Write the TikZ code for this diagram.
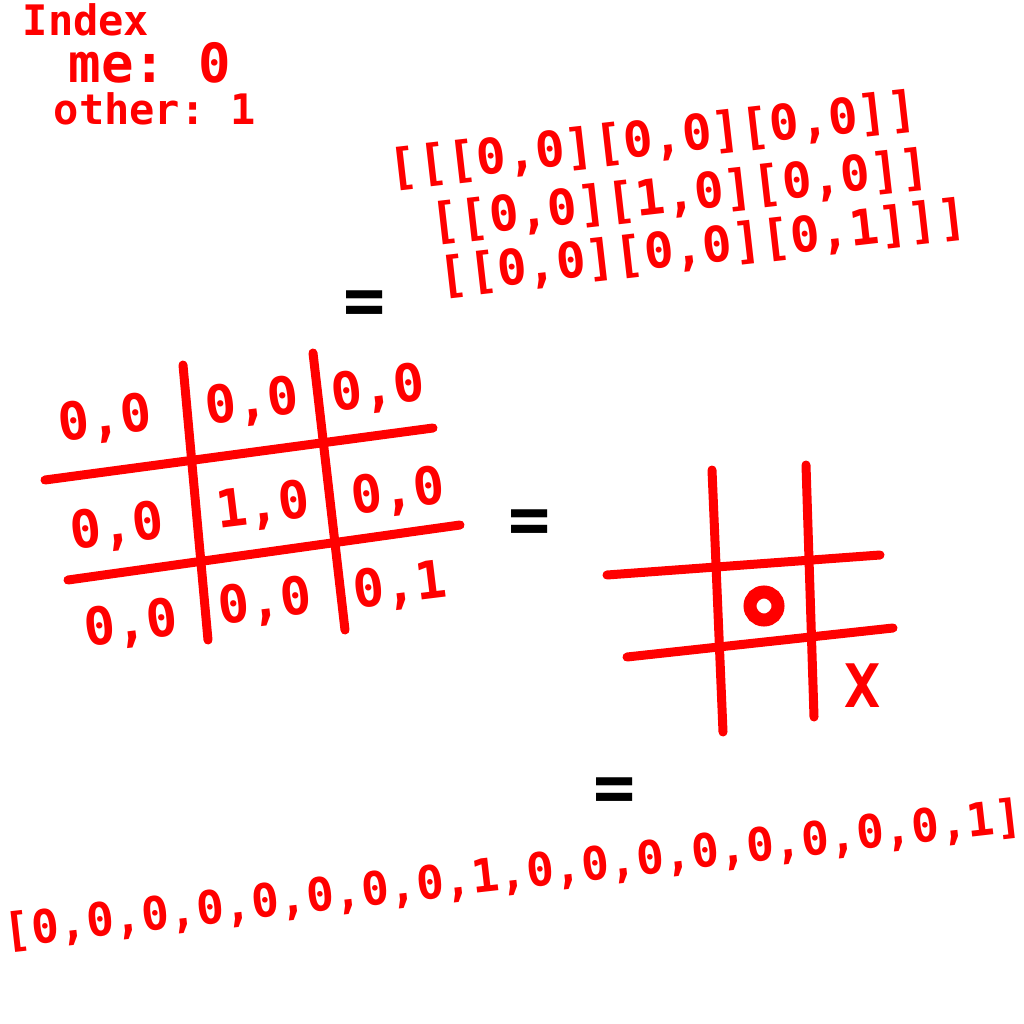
\documentclass[tikz,border=0pt]{standalone}
\usepackage{fontspec}
\setmonofont{DejaVu Sans Mono}
\definecolor{ink}{RGB}{255,0,0}
\begin{document}
\begin{tikzpicture}[x=1pt,y=-1pt,
  hand/.style={text=ink, font=\ttfamily\bfseries\fontsize{#1}{#1}\selectfont, inner sep=0pt},
  eqsign/.style={text=black, font=\ttfamily\bfseries\fontsize{70}{70}\selectfont, inner sep=0pt},
  gridline/.style={draw=ink, line width=9pt, line cap=round}]
\useasboundingbox[fill=white] (0,0) rectangle (1024,1024);
% index legend
\node[hand=42] (idx) at (86,20) {Index};
\node[hand=54] (me) at (150,63) {me: 0};
\node[hand=42] (oth) at (155,109) {other: 1};
% nested list
\node[hand=49, rotate=6.5] (l1) at (653,140) {[[[0,0][0,0][0,0]]};
\node[hand=49, rotate=6.5] (l2) at (680,196) {[[0,0][1,0][0,0]]};
\node[hand=49, rotate=6.5] (l3) at (703,248) {[[0,0][0,0][0,1]]]};
\node[eqsign] (eq1) at (365,308) {=};
% 3x3 value grid
\draw[gridline] (183,365) -- (208,640);
\draw[gridline] (313,353) -- (345,630);
\draw[gridline] (45,480) -- (433,428);
\draw[gridline] (68,580) -- (460,525);
\node[hand=52, rotate=7] (c11) at (105,420) {0,0};
\node[hand=52, rotate=7] (c12) at (252,403) {0,0};
\node[hand=52, rotate=7] (c13) at (378,390) {0,0};
\node[hand=52, rotate=7] (c21) at (117,528) {0,0};
\node[hand=52, rotate=7] (c22) at (263,507) {1,0};
\node[hand=52, rotate=7] (c23) at (398,493) {0,0};
\node[hand=52, rotate=7] (c31) at (131,625) {0,0};
\node[hand=52, rotate=7] (c32) at (265,603) {0,0};
\node[hand=52, rotate=7] (c33) at (400,587) {0,1};
\node[eqsign] (eq2) at (530,527) {=};
% tic-tac-toe board
\draw[gridline] (712,470) -- (723,732);
\draw[gridline] (806,465) -- (814,717);
\draw[gridline] (607,575) -- (880,555);
\draw[gridline] (627,657) -- (893,628);
\draw[draw=ink, line width=13pt] (764,606) circle[radius=14];
\node[hand=60] (xmark) at (863,686) {X};
\node[eqsign] (eq3) at (615,795) {=};
% flat list
\node[hand=46, rotate=6.5] (flat) at (513,875) {[0,0,0,0,0,0,0,0,1,0,0,0,0,0,0,0,0,1]};
\end{tikzpicture}
\end{document}
